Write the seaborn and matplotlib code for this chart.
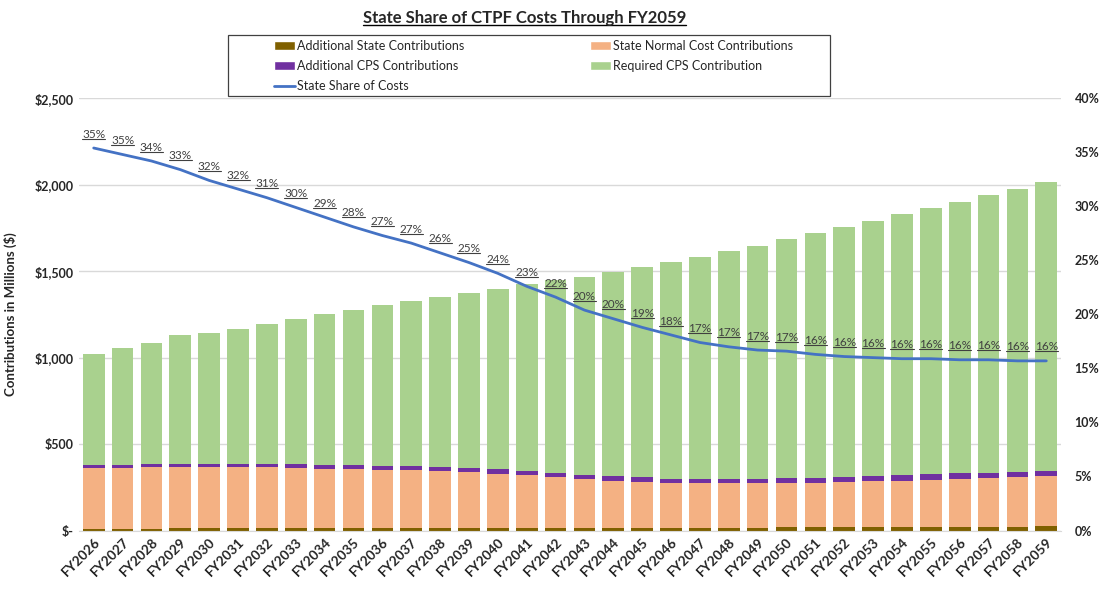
import matplotlib
matplotlib.use("Agg")
import matplotlib.pyplot as plt
from matplotlib.patches import Patch, Rectangle
from matplotlib.lines import Line2D
from matplotlib.ticker import FuncFormatter, MultipleLocator
import numpy as np
import pandas as pd
import seaborn as sns

# fiscal years on the x axis
years = ["FY%d" % y for y in range(2026, 2060)]

# contributions in $ millions
add_state = [11, 11, 11, 13, 13, 13, 13, 13, 13, 13, 16, 16, 16, 16, 16, 16, 16,
             16, 17, 17, 17, 17, 17, 17, 20, 20, 20, 20, 20, 21, 22, 22, 23, 24]
state_normal = [349, 352, 354, 352, 352, 352, 352, 351, 345, 343, 336, 332, 326, 321, 313, 303, 292,
                282, 272, 264, 260, 256, 256, 256, 257, 257, 261, 267, 269, 271, 276, 284, 287, 290]
add_cps = [19, 18, 18, 20, 22, 22, 20, 21, 23, 23, 23, 23, 25, 26, 25, 25, 23,
           25, 25, 27, 23, 25, 23, 25, 27, 29, 29, 28, 30, 33, 33, 29, 30, 32]
required_cps = [643, 673, 700, 746, 754, 780, 811, 838, 871, 896, 929, 956, 983, 1011, 1045, 1080, 1118,
                1145, 1183, 1214, 1251, 1286, 1319, 1349, 1380, 1416, 1447, 1477, 1512, 1540, 1571, 1606, 1637, 1668]

# state share of costs (%)
state_share = [35.4, 34.8, 34.2, 33.4, 32.4, 31.6, 30.8, 29.9, 29.0, 28.1, 27.3, 26.6, 25.7, 24.8, 23.8, 22.6, 21.6,
               20.4, 19.6, 18.8, 18.1, 17.4, 17.0, 16.7, 16.6, 16.3, 16.1, 16.0, 15.9, 15.9, 15.8, 15.8, 15.7, 15.7]

df = pd.DataFrame({
    "year": years,
    "add_state": add_state,
    "state_normal": state_normal,
    "add_cps": add_cps,
    "required_cps": required_cps,
    "share": state_share,
})
# cumulative tops for the stacked layers
df["top_normal"] = df["add_state"] + df["state_normal"]
df["top_cps"] = df["top_normal"] + df["add_cps"]
df["top_req"] = df["top_cps"] + df["required_cps"]

c_brown = "#7F6000"
c_orange = "#F4B183"
c_purple = "#7030A0"
c_green = "#A9D18E"
c_line = "#4472C4"
c_grid = "#D9D9D9"
c_text = "#404040"

sns.set_style("white")
plt.rcParams["font.family"] = ["Lato", "DejaVu Sans"]

fig = plt.figure(figsize=(11.07, 5.94), dpi=100)
ax = fig.add_axes([0.0716, 0.1069, 0.8866, 0.7276])

# stacked bars: draw the tallest first, then overlay the lower stacks
for col, c in [("top_req", c_green), ("top_cps", c_purple),
               ("top_normal", c_orange), ("add_state", c_brown)]:
    sns.barplot(data=df, x="year", y=col, color=c, saturation=1, width=0.75,
                linewidth=0, ax=ax)

ax.set_ylim(0, 2500)
ax.set_xlim(-0.5, len(years) - 0.5)
ax.yaxis.set_major_locator(MultipleLocator(500))
ax.yaxis.set_major_formatter(FuncFormatter(lambda v, p: "$-" if v == 0 else "${:,.0f}".format(v)))
ax.grid(axis="y", color=c_grid, linewidth=1)
ax.set_axisbelow(True)
for s in ["top", "left", "right"]:
    ax.spines[s].set_visible(False)
ax.spines["bottom"].set_color(c_grid)
ax.tick_params(axis="y", length=0, labelsize=9, pad=4)
ax.tick_params(axis="x", length=0, labelsize=9.8, pad=4)
ax.set_xlabel("")
ax.set_ylabel("Contributions in Millions ($)", fontsize=9.5, fontweight="bold")
ax.yaxis.set_label_coords(-0.0635, 0.5)
for lab in ax.get_yticklabels():
    lab.set_fontweight("bold")
plt.setp(ax.get_xticklabels(), rotation=45, ha="right", rotation_mode="anchor",
         fontweight="bold")

# state share line on the right axis
ax2 = ax.twinx()
sns.lineplot(data=df, x="year", y="share", color=c_line, linewidth=2, sort=False, ax=ax2)
ax2.set_ylim(0, 40)
ax2.yaxis.set_major_locator(MultipleLocator(5))
ax2.yaxis.set_major_formatter(FuncFormatter(lambda v, p: "{:.0f}%".format(v)))
ax2.set_ylabel("")
for s in ["top", "left", "right", "bottom"]:
    ax2.spines[s].set_visible(False)
ax2.tick_params(axis="y", length=0, labelsize=9, pad=10)
for lab in ax2.get_yticklabels():
    lab.set_fontweight("bold")

labels = []
for yr, v in zip(years, state_share):
    t = ax2.annotate("{:.0f}%".format(v), xy=(yr, v), xytext=(0, 10),
                     textcoords="offset points", ha="center", va="center",
                     fontsize=8.5, color=c_text)
    labels.append(t)

title = fig.text(0.474, 0.969, "State Share of CTPF Costs Through FY2059",
                 ha="center", va="center", fontsize=12, fontweight="bold")

handles = [
    Patch(facecolor=c_brown), Patch(facecolor=c_purple),
    Line2D([], [], color=c_line, linewidth=2),
    Patch(facecolor=c_orange), Patch(facecolor=c_green),
]
names = ["Additional State Contributions", "Additional CPS Contributions",
         "State Share of Costs", "State Normal Cost Contributions",
         "Required CPS Contribution"]
fig.legend(handles, names, ncol=2, loc="center", bbox_to_anchor=(0.482, 0.889),
           frameon=False, fontsize=9, handlelength=1.7, handleheight=0.7,
           handletextpad=0.2, columnspacing=10.0, labelspacing=0.67)
fig.add_artist(Rectangle((0.206, 0.838), 0.544, 0.103, transform=fig.transFigure,
                         fill=False, edgecolor="#404040", linewidth=0.9))

# underline the title and the data labels, like the original
fig.canvas.draw()
renderer = fig.canvas.get_renderer()
inv = fig.transFigure.inverted()


def underline(t, lw, color):
    bb = t.get_window_extent(renderer)
    (x0, y0), (x1, _) = inv.transform([(bb.x0, bb.y0 + 1), (bb.x1, bb.y0 + 1)])
    fig.add_artist(Line2D([x0, x1], [y0, y0], color=color, linewidth=lw,
                          transform=fig.transFigure))


underline(title, 1.0, "black")
for t in labels:
    underline(t, 0.8, c_text)

fig.savefig("out.png", dpi=100)
